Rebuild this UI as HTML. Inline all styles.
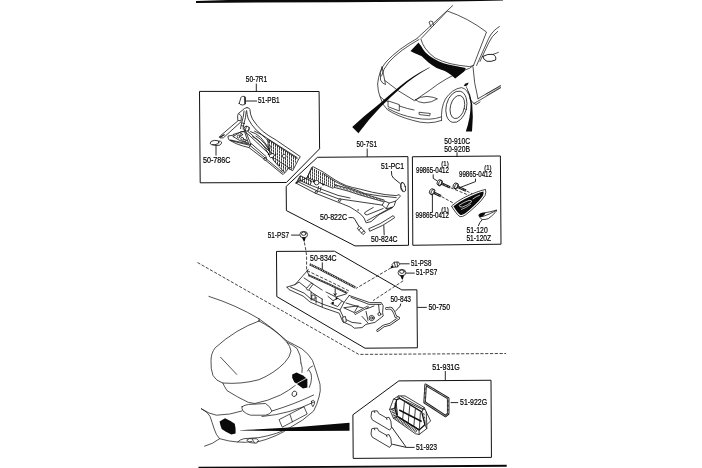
<!DOCTYPE html>
<html><head><meta charset="utf-8"><title>Cowl panel parts diagram</title>
<style>
html,body{margin:0;padding:0;background:#fff;}
body{width:702px;height:468px;overflow:hidden;font-family:"Liberation Sans",sans-serif;}
svg{display:block;filter:grayscale(1);}
svg text{font-family:"Liberation Sans",sans-serif;fill:#000;stroke:#000;stroke-width:0.2;}
.bx{fill:none;stroke:#111;stroke-width:1;}
.ln{fill:none;stroke:#161616;stroke-width:0.82;stroke-linejoin:round;stroke-linecap:round;}
.th{fill:none;stroke:#181818;stroke-width:0.75;stroke-linejoin:round;stroke-linecap:round;}
.ld{fill:none;stroke:#111;stroke-width:0.9;}
.wf{fill:#fff;stroke:#161616;stroke-width:0.82;stroke-linejoin:round;}
.bk{fill:#0a0a0a;stroke:none;}
.ds{fill:none;stroke:#222;stroke-width:0.85;stroke-dasharray:3.2 1.6;}
</style></head><body>
<svg width="702" height="468" viewBox="0 0 702 468">
<rect width="702" height="468" fill="#fff"/>
<polygon class="bk" points="196,0.9 228,0 503,0 503,0.45 480,0.95 450,1.5 340,2.15 196,2.9"/>
<polygon class="bk" points="198.5,466.8 506.7,464.85 506.7,466.65 198.5,468.6"/>
<polygon class="bx" points="199.5,91.4 319.1,91.5 319.6,148.8 286.4,182.5 200.2,182.8"/>
<polygon class="bx" points="317.5,157.3 407.9,156.6 408.5,245.3 355,245.9 286.4,210.6 286.2,186.4"/>
<polygon class="bx" points="412.4,156.75 500.4,156 501,244.2 412.8,245.25"/>
<polygon class="bx" points="276.5,251.4 334.5,251.2 401.8,289.9 416.9,289.8 417.4,347.8 365,348.2 276.8,296.6"/>
<polygon class="bx" points="398.8,380.9 491,380.25 491.45,457.4 353.2,458.4 352.9,414.8"/>
<polyline class="ds" points="197.5,262.5 358.8,354.4 506,353.5"/>
<text x="245.8" y="82.0" font-size="8.4" textLength="21.4" lengthAdjust="spacingAndGlyphs">50-7R1</text>
<path class="ld" d="M256.3,83.6V91.4"/>
<text x="258.0" y="103.4" font-size="8.4" textLength="21.6" lengthAdjust="spacingAndGlyphs">51-PB1</text>
<path class="ld" d="M245.6,101H257"/>
<text x="203.0" y="163.0" font-size="8.4" textLength="27.4" lengthAdjust="spacingAndGlyphs">50-786C</text>
<text x="356.5" y="147.4" font-size="8.4" textLength="20.5" lengthAdjust="spacingAndGlyphs">50-7S1</text>
<path class="ld" d="M367.2,148.6V157"/>
<text x="381.0" y="169.0" font-size="8.4" textLength="23.0" lengthAdjust="spacingAndGlyphs">51-PC1</text>
<text x="320.0" y="220.4" font-size="8.4" textLength="27.0" lengthAdjust="spacingAndGlyphs">50-822C</text>
<text x="371.0" y="242.0" font-size="8.4" textLength="26.5" lengthAdjust="spacingAndGlyphs">50-824C</text>
<text x="444.3" y="144.0" font-size="8.4" textLength="25.7" lengthAdjust="spacingAndGlyphs">50-910C</text>
<text x="444.3" y="151.6" font-size="8.4" textLength="25.7" lengthAdjust="spacingAndGlyphs">50-920B</text>
<path class="ld" d="M457,152.3V157"/>
<text x="441.3" y="166.0" font-size="7.6" textLength="7.4" lengthAdjust="spacingAndGlyphs">(1)</text>
<text x="416.0" y="172.8" font-size="8.4" textLength="33.0" lengthAdjust="spacingAndGlyphs">99865-0412</text>
<text x="484.3" y="169.8" font-size="7.6" textLength="7.3" lengthAdjust="spacingAndGlyphs">(1)</text>
<text x="459.0" y="176.8" font-size="8.4" textLength="33.0" lengthAdjust="spacingAndGlyphs">99865-0412</text>
<text x="441.3" y="211.8" font-size="7.6" textLength="7.5" lengthAdjust="spacingAndGlyphs">(1)</text>
<text x="415.6" y="218.2" font-size="8.4" textLength="33.4" lengthAdjust="spacingAndGlyphs">99865-0412</text>
<text x="466.4" y="233.4" font-size="8.4" textLength="21.3" lengthAdjust="spacingAndGlyphs">51-120</text>
<text x="466.4" y="240.6" font-size="8.4" textLength="24.7" lengthAdjust="spacingAndGlyphs">51-120Z</text>
<text x="267.8" y="237.8" font-size="8.4" textLength="21.1" lengthAdjust="spacingAndGlyphs">51-PS7</text>
<text x="310.1" y="260.6" font-size="8.4" textLength="26.5" lengthAdjust="spacingAndGlyphs">50-834C</text>
<text x="410.9" y="266.0" font-size="8.4" textLength="20.5" lengthAdjust="spacingAndGlyphs">51-PS8</text>
<text x="416.0" y="275.0" font-size="8.4" textLength="21.2" lengthAdjust="spacingAndGlyphs">51-PS7</text>
<text x="390.4" y="301.8" font-size="8.4" textLength="20.6" lengthAdjust="spacingAndGlyphs">50-843</text>
<text x="428.5" y="309.8" font-size="8.4" textLength="21.5" lengthAdjust="spacingAndGlyphs">50-750</text>
<path class="ld" d="M417.3,307.4H426.8"/>
<text x="432.2" y="369.7" font-size="8.4" textLength="27.6" lengthAdjust="spacingAndGlyphs">51-931G</text>
<path class="ld" d="M445.3,371V380.5"/>
<text x="460.1" y="405.1" font-size="8.4" textLength="27.0" lengthAdjust="spacingAndGlyphs">51-922G</text>
<text x="415.9" y="449.7" font-size="8.4" textLength="21.2" lengthAdjust="spacingAndGlyphs">51-923</text>
<g class="th">
<path d="M417.2,38.2L452.7,5.6"/>
<path d="M421.2,38.4L447.3,11Q468,18 486.5,32L473.6,65.3"/>
<path d="M499.4,26.6Q492,31 488.6,38.6L476.6,65.4"/>
<path d="M497.6,31.4Q491.6,36 488.6,43L480,61.4"/>
<path d="M421,39.4Q422.4,44 425,48Q429,53.6 435,58Q442,61.6 450,63.6Q459,65.6 469.3,66.6L473.4,65.6"/>
<path d="M431,27L429,22Q430,20.5 432.5,21.5L433.5,25.5"/>
<path d="M482.8,56.4Q488,53.4 493,54.4Q496.6,56 495.6,60Q491,62 487,61.3Q483.4,60 482.8,56.4Z" stroke-width="0.95"/>
<path d="M493,54.4L498.4,52.4"/>
<path d="M417,38.5Q398,49 386,62Q379,70 377.6,84Q378,92 380,96.5Q382,105 387.5,109.8Q398,116.6 412.6,120.3Q428,125.4 441.6,120.4"/>
<path d="M419,39.5Q400,50 389,62Q383,69 381.5,76"/>
<path d="M382,67Q379.5,72 380.5,80Q382.5,84 385.5,84.5Q383.5,74 382,67Z"/>
<path d="M465,70Q445,78 430,90Q421,96 414.6,100.6"/>
<path d="M385,80.6Q397,91 414,100.4"/>
<path d="M415.5,99.8Q420,96.4 427,96.4Q434,97 437.4,98.8Q432,102.6 424,102.9Q418,102.4 415.5,99.8Z"/>
<path d="M380,96.5Q384,101 388,101.5"/>
<path d="M388.4,101L399.3,104.6L399.3,111L388.4,106.8Z"/>
<path d="M388,108.5Q400,115.4 415,118Q430,121 441,117"/>
<path d="M419.4,112.3L430.3,113.5L429.6,115.8L419.6,114.6Z"/>
<path d="M399.3,106Q408,109 414,110"/>
<path d="M441.6,120.4Q440.6,108 445.4,99Q452,89 461.4,87.6Q467.6,88.4 470.4,99"/>
<ellipse cx="456.4" cy="106.8" rx="10.2" ry="16" transform="rotate(14 456.4 106.8)"/>
<ellipse cx="457.4" cy="107" rx="7" ry="11.8" transform="rotate(14 457.4 107)"/>
<path d="M465,70Q470,69 473.6,65.3"/>
<path d="M473,67Q474,84 478,98.7"/>
<path d="M478,98.7L500.4,85.6"/>
<path d="M474,103.4L477.6,101.4L500.6,87.8"/>
<path d="M470,99Q473,104 476,104.5L480,102"/>
<path d="M486,94L500.4,86.2M487,95.2L500.6,87.2" stroke-width="0.5"/>
</g>
<path class="bk" d="M410.5,51.1L418.6,42.5Q419.6,44 421.1,46Q423,49.4 425.1,52.1Q428,55 431.1,57.1Q435,59.6 439.1,61.6Q443.6,63.4 448.2,64.6Q453,65.8 458.2,66.6L465.7,68.1L464.2,71.6L455.2,78.4L451.8,75.4Q448.6,73 444.8,71Q440.6,69.6 436.6,68Q432.4,65.6 428.5,62.5Q424.8,59.2 421.7,56.3Q419,54.8 416,53.8Q413,52.5 410.5,51.1Z"/>
<path class="bk" d="M463.6,85.6Q465.5,83.2 468.6,82.6Q468.4,85.2 465.4,86.2Z"/>
<path class="bk" d="M429.5,67.2Q412,76 399.6,86.4Q388,96 378.6,104.6Q364,116 352.2,127L358.4,133.2Q369,119 380.6,107Q390,97.6 401,87.8Q413,77 429.6,67.8Z"/>
<path class="bk" d="M466,86.4Q470,95 470.6,104Q470.6,118 465.8,131.4L472,131.4Q473.6,117 472.2,104Q470.6,94 466.4,86.3Z"/>
<g class="th">
<path d="M208.9,296.4Q236,305 259,318.8Q274,329 287,341Q295,345 301.8,348.8Q309,354 312.5,360.5Q316,370 320,384.2Q321,391 319,397Q317,405 313.6,411Q303,421 291,427Q284,432 276.2,435.5Q266,440 257,442"/>
<path d="M259,321Q236,329 215.3,347.7Q211,353 211,360.5Q210.5,369 213,375.5Q216,381 222.8,383Q241,384.5 259,379.7Q274,373.5 284.7,362.6Q290,357 291,351Q290,346 287,342.4Q279,333 269.8,327.4Q264,323.5 259,321Z"/>
<path d="M259,318.8L259,321"/>
<path d="M220.6,357.3L236.7,374.4"/>
<path d="M287,342.4Q293,345 297,348.5Q301,355 301,363"/>
<path d="M222.8,383Q224,386 227,390.6Q237,397 248.4,402.4L254.8,403.5Q268,401 280.5,395Q289,390.5 295.4,385.3"/>
<path d="M301,363Q303,368 302,372.5"/>
<path d="M309.3,370.3Q312,374 311.5,377.8Q311.5,383 309.3,387.4"/>
<path d="M312.5,366Q309,367 307.5,371"/>
<ellipse cx="294.4" cy="393.8" rx="2.3" ry="2.8" transform="rotate(25 294.4 393.8)"/>
<path d="M242,406.7Q245,404.8 248.4,404.5L265.5,403.5Q270,406 272,411Q270,414.5 265.5,415.2L250.6,415.2Q246,414 243,411Q241.5,408.5 242,406.7Z"/>
<path d="M201.4,408.8Q208,412 210,416.3Q212,422 214.2,429Q216,435 219.6,438.7Q213,444 204.6,446.2"/>
<path d="M201.4,408.8Q209,414 216.4,415.2Q230,415 242,411"/>
<path d="M272,411Q295,404 313.6,395"/>
<path d="M262,416.5Q290,414 314,402"/>
<path d="M279.4,419.5L304,406.7L307.2,414L282.6,427Z"/>
<path d="M290,414.6L292.4,421.8"/>
<path d="M311.5,401.3Q313.6,399 314.7,401.5Q314.5,405 312.8,406.7Q311,404.5 311.5,401.3Z"/>
<path d="M219.6,438.7Q229,441.5 237.7,442Q240,439.5 244,438.7L259,437.6Q268,436 276.2,433.4Q283,431 289,428"/>
<path d="M237.7,442Q246,443 252,441.5"/>
<path d="M247,440L249.5,438.6L256.5,438.8L258.5,440.5L256.5,443.2L250,442.6Z"/>
<path d="M252.2,439.2L254.5,442.8"/>
</g>
<path class="bk" d="M292.2,374.6L296.5,372.4L303,375.4L307.4,378.9L307.4,387.4L303,388.6L297.6,384.6L294.2,382L292.2,377.8Z"/>
<path d="M293.3,385.5L307.6,377.6" stroke="#fff" stroke-width="0.8" fill="none"/>
<path class="bk" d="M219.6,421.6L225,418.3L230.5,421L234.7,423.8Q236,428 235.6,433.4L231.3,434.6L225.5,431.6L221.7,429Q220,425 219.6,421.6Z"/>
<path class="bk" d="M239.9,430.2Q295,428 349.5,422.8L349.5,430.8Q295,431.2 239.9,430.5Z"/>
<path class="ln" d="M239.2,103.4L241,97.4Q241.4,96.5 242.6,96.4L244.4,96.4Q245.2,96.8 245.2,98L245.3,103.6Q244.6,105 242.4,105Q239.8,105 239.2,103.4Z"/>
<path d="M244.9,96.8L245.1,104.2" stroke="#111" stroke-width="1.3" fill="none"/>
<ellipse class="ln" cx="214.6" cy="142.6" rx="4.4" ry="2.2" transform="rotate(-8 214.6 142.6)"/>
<path class="ln" d="M212.5,144.6Q216,146.3 219.6,145.2Q221.8,144 221.6,142.2Q220.6,140.8 218.6,140.9"/>
<path class="ld" d="M216,145.6V155.6"/>
<path class="ln" d="M247.1,107.6Q249.4,107.6 249.9,109.4Q250,114 252.4,119Q256.6,125.6 262.4,131Q268.6,136 276.3,140.2L300.3,156.6L298.2,160L292.7,170.7L288.2,168.4L286.2,171.4L283.2,174.4Q281.6,174.2 281,173L264.1,159.1L249,147.6Q242,146 236.1,143.6L229.1,140Q227.6,138 228.1,136L234.1,135"/>
<path class="ln" d="M246.6,110.6Q247,115 248.3,119Q251.4,125 256.2,130Q261.6,135 268.2,139L297.2,157.6"/>
<path class="ln" d="M247.1,107.6L244.6,108.4L238.3,113.6L237.6,115.6L237.8,120.4L241.1,120.8L241.4,116L239,113.8"/>
<path class="ln" d="M244.1,111Q243.4,118 241.6,123Q240.8,126 240.6,128.6"/>
<path class="ln" d="M246.2,111.6Q245.8,118 244,123.4Q243,126.6 243.2,129.4"/>
<path class="ln" d="M242.4,123L244.6,123.6M241.6,125.6L243.6,126.2"/>
<path class="ln" d="M237.7,121L220.2,136L219.4,137.2L220.6,138L223.4,137.8L241,121.8"/>
<path d="M219.6,137.4L224.6,134.6" stroke="#111" stroke-width="1.2" fill="none"/>
<circle class="wf" cx="246.6" cy="128.6" r="2.5"/>
<path class="ln" d="M233.1,136.6L241.1,131.6L244.6,131.8L248.4,143.2M233.1,136.6L240,140.6L248.4,143.2"/>
<circle class="ln" cx="238.6" cy="136.6" r="1.4"/><circle class="ln" cx="242.2" cy="138.8" r="1.4"/><circle class="ln" cx="241.2" cy="134.6" r="1.2"/><circle class="ln" cx="245" cy="140.6" r="1.2"/>
<path class="ln" d="M245.6,132.4L249,135L269.1,154M247.6,131.4L251,134L270.6,152.4"/>
<path class="ln" d="M250.6,131.6Q256,133 260.6,137.4Q266,143 270.6,152"/>
<path class="ln" d="M254.6,131.2Q262,134 266.6,139Q269,142 271.6,150"/>
<path class="ln" d="M249.2,147.2L251.2,143.6L266.6,157L264.6,159.4"/>
<path class="ln" d="M230.6,140.4L236.6,142.2L249.6,145.2L265.6,158.4L281.6,171.6"/>
<path class="ln" d="M233.4,134.4L245.4,130.7L251,144.6L230.6,140"/>
<path class="ln" d="M252.6,136.6Q258,139 262,144Q266,149 268.4,153.6M256,136Q261,139 264.6,143.6Q268,148 269.6,151.6"/>
<path class="ln" d="M244.6,131.6L246.6,126.4M248.6,131L249.4,127.6"/>
<ellipse class="wf" cx="265.4" cy="159" rx="1.5" ry="1" transform="rotate(35 265.4 159)"/>
<clipPath id="c0"><polygon points="268.1,139.5 297.2,158.6 292.7,169.9 288.2,168.2 284.4,172.4 274.2,161.2 270.1,154.0 268.1,145.0"/></clipPath>
<path d="M267.5,138.5V173.4M269.5,138.5V173.4M271.5,138.5V173.4M273.5,138.5V173.4M275.5,138.5V173.4M277.5,138.5V173.4M279.5,138.5V173.4M281.5,138.5V173.4M283.5,138.5V173.4M285.5,138.5V173.4M287.5,138.5V173.4M289.5,138.5V173.4M291.5,138.5V173.4M293.5,138.5V173.4M295.5,138.5V173.4M297.5,138.5V173.4" clip-path="url(#c0)" stroke="#3c3c3c" stroke-width="1" fill="none" shape-rendering="crispEdges"/>
<path class="ln" d="M268.1,139.5L297.2,158.6M268.1,145L270.1,154L274.2,161.2L284.4,172.4M268.1,139.5V145M274.6,158.6L288.6,167.6"/>
<path d="M268.4,143L296.4,161.4M269,146.6L295.2,163.8M270.2,150.6L294,166.2M271.6,154.6L292.8,168.4M274.6,159.4L288,168.2M278,165.6L286,170.6" stroke="#fff" stroke-width="0.55" fill="none"/>
<circle class="wf" cx="284.2" cy="156.1" r="1.8"/>
<ellipse class="wf" cx="271.8" cy="155.6" rx="2.6" ry="1.9" transform="rotate(-25 271.8 155.6)"/>
<circle class="wf" cx="265.2" cy="159.2" r="1.2"/>
<circle class="bk" cx="279.2" cy="165.1" r="0.9"/>
<circle class="bk" cx="268.6" cy="154.4" r="0.8"/><circle class="bk" cx="275.6" cy="154.2" r="0.8"/>
<ellipse class="wf" cx="282.6" cy="171.4" rx="1.3" ry="0.9"/>
<ellipse class="wf" cx="290.6" cy="168.4" rx="1.3" ry="0.9"/>
<clipPath id="c1"><polygon points="312.2,167.6 323.1,173.4 335.2,181.4 336.0,184.8 333.2,188.3 307.1,177.6"/></clipPath>
<path d="M306.5,166.6V189.3M308.5,166.6V189.3M310.5,166.6V189.3M312.5,166.6V189.3M314.5,166.6V189.3M316.5,166.6V189.3M318.5,166.6V189.3M320.5,166.6V189.3M322.5,166.6V189.3M324.5,166.6V189.3M326.5,166.6V189.3M328.5,166.6V189.3M330.5,166.6V189.3M332.5,166.6V189.3M334.5,166.6V189.3M336.5,166.6V189.3" clip-path="url(#c1)" stroke="#3c3c3c" stroke-width="1" fill="none" shape-rendering="crispEdges"/>
<clipPath id="c2"><polygon points="301.0,176.1 311.6,181.1 310.1,185.1 299.0,180.1"/></clipPath>
<path d="M298.5,175.1V186.1M300.5,175.1V186.1M302.5,175.1V186.1M304.5,175.1V186.1M306.5,175.1V186.1M308.5,175.1V186.1M310.5,175.1V186.1M312.5,175.1V186.1" clip-path="url(#c2)" stroke="#3c3c3c" stroke-width="1" fill="none" shape-rendering="crispEdges"/>
<path class="ln" d="M312.2,167.6L307.1,177.6L333.2,188.3L336,184.8M301,176.1L311.6,181.1L310.1,185.1L299,180.1Z"/>
<path d="M311,170.4L335.4,183.6M309.8,172.8L334.8,186M308.6,175.2L334,188M300.2,178L311,183" stroke="#fff" stroke-width="0.55" fill="none"/>
<path class="ln" d="M296,183.1L300,176L301,176.1M307.1,177.6L311.4,168Q312,166.4 313.4,166.8L323.1,172Q329,176 335.2,180Q340,183 346.2,185.6Q352,187.6 360,189.1Q372,192.6 385.2,194.6L396.2,195.6L399.2,194.6L400.4,196.1L397.7,199.1L395.7,201.1L394.2,205.6L392.2,207.8L379.2,214.6L371.1,221.6L366.1,222.8L364.1,218.1Q362,215 359.1,213Q355,210 350,207Q343,204 335,201L315.1,193.1L296,183.1Z"/>
<path class="ln" d="M323.1,173.6Q330,178 336,182Q342,185 348,187.4Q356,189.6 365.1,193.6Q380,196.4 396.2,197.6"/>
<path class="ln" d="M335.2,184.8Q348,188 360,192.6L384.2,200.1M334.2,187.4Q348,190.6 360,195L383.2,201.6"/>
<path d="M336,186Q348,189.4 360,193.8L383.6,200.8" stroke="#222" stroke-width="1.6" stroke-dasharray="0.6 0.9" fill="none"/>
<path class="ln" d="M297.5,181.4L316,190.4L338.2,198.7L382.2,205.1M299,180.1L296.8,183.4"/>
<path class="ln" d="M310.6,185.2L338,195.4L350,198"/>
<path class="ln" d="M384.4,201.4L382.2,205.1L386.2,208.6L389.2,203.1L384.7,201.1M389.2,203.1L395.7,201.1M386.2,208.6L392.2,207.6"/>
<path class="ln" d="M373.2,207.5L365.4,212Q364.2,213 364.8,214Q365.8,215.2 367.4,214.8L383.2,208.5"/>
<path class="ln" d="M367.1,220.6L392.2,207"/>
<circle class="bk" cx="358.1" cy="210" r="0.7"/>
<circle class="wf" cx="316.6" cy="182.6" r="2.3"/>
<circle class="bk" cx="313.6" cy="181.6" r="1"/><circle class="bk" cx="323.1" cy="184.6" r="1"/>
<ellipse class="wf" cx="316.3" cy="192.1" rx="1.5" ry="1" transform="rotate(-30 316.3 192.1)"/>
<ellipse class="wf" cx="339.7" cy="200.2" rx="1.5" ry="1" transform="rotate(-30 339.7 200.2)"/>
<path class="ln" d="M318.6,186.4L317.8,190M321,187.2L320.2,190.8"/>
<ellipse class="ln" cx="403.2" cy="187" rx="2.1" ry="4.8" transform="rotate(-14 403.2 187)"/>
<path class="ln" d="M402.2,182.6Q400.4,184 400.6,187.4Q401,190.6 402.8,191.6"/>
<path class="ld" d="M391.4,171L391.8,175.4L393.4,178L400.2,183.5"/>
<path class="wf" d="M357.2,228.4L359.6,226.2L365.4,232.4L363,234.6Z" stroke-width="0.9"/>
<path class="ln" d="M358.8,230L361.2,227.8M361.6,232.8L364,230.8"/>
<path class="ld" d="M348.6,217.6L352.6,217.6Q354.2,217.8 354.8,219.4L359.1,226.6"/>
<path class="ln" d="M369.1,228.6L380.2,223.6L385.2,220.6L393.2,215.6L394.7,217.6L387.2,222.6L382.2,225.6L370.1,231.1Z"/>
<path class="ld" d="M383.8,225.2L384.2,235.2"/>
<ellipse class="wf" cx="439.4" cy="182.6" rx="2.2" ry="3" transform="rotate(24 439.4 182.6)" stroke-width="1"/>
<ellipse class="ln" cx="440.5" cy="183.1" rx="1.6" ry="3.1" transform="rotate(24 440.5 183.1)"/>
<path d="M441.8,183.7L450.0,187.4" stroke="#111" stroke-width="2.4" fill="none"/>
<path d="M442.5,184.0L449.5,187.2" stroke="#fff" stroke-width="1.0" stroke-dasharray="0.6 0.9" fill="none"/>
<ellipse class="wf" cx="455.4" cy="185.8" rx="2.2" ry="3" transform="rotate(24 455.4 185.8)" stroke-width="1"/>
<ellipse class="ln" cx="456.5" cy="186.3" rx="1.6" ry="3.1" transform="rotate(24 456.5 186.3)"/>
<path d="M457.8,186.9L466.0,190.6" stroke="#111" stroke-width="2.4" fill="none"/>
<path d="M458.5,187.2L465.5,190.4" stroke="#fff" stroke-width="1.0" stroke-dasharray="0.6 0.9" fill="none"/>
<ellipse class="wf" cx="431.8" cy="191.6" rx="2.2" ry="3" transform="rotate(27 431.8 191.6)" stroke-width="1"/>
<ellipse class="ln" cx="432.9" cy="192.1" rx="1.6" ry="3.1" transform="rotate(27 432.9 192.1)"/>
<path d="M434.1,192.8L441.0,196.2" stroke="#111" stroke-width="2.4" fill="none"/>
<path d="M434.8,193.1L440.6,196.0" stroke="#fff" stroke-width="1.0" stroke-dasharray="0.6 0.9" fill="none"/>
<path class="ld" d="M433.2,174.4V178.4L437.4,181"/>
<path class="ld" d="M475.5,178.6V181.6L460.4,187.4"/>
<path class="ld" d="M432.4,194.6V212.4"/>
<path class="ds" d="M441.6,196.6L454.6,203.8M450.6,187.8L470.8,196M466.6,191L472.6,194"/>
<path class="wf" d="M451.5,206Q457,201.4 463.3,198Q470,194.6 476.1,192.3Q481,190.4 485.5,189.4Q486.4,192 485,195.5Q481.4,201 476.1,205.8Q471,210.6 465.8,214.7Q462.6,217 460,216.7Q457.4,215 455.6,212.2Q453,208.8 451.5,206Z" stroke-width="1"/>
<path class="bk" d="M453.4,206.2Q458.6,202 464.4,199.2Q471,195.8 477,193.4Q480.6,192 483.6,191.6Q483.8,193.8 482.6,196.2Q479.2,201 474.8,205Q469.8,209.8 465,213.6Q462.4,215.4 460.4,215Q458.2,213.4 456.6,211Q454.8,208.4 453.4,206.2Z"/>
<path d="M459,205.4Q464,202 469,200.4Q472,200 471.6,201.8Q468,205 462.6,207Q459.4,207.4 459,205.4Z" fill="none" stroke="#fff" stroke-width="0.7"/>
<path d="M472.6,199.2Q476,196.6 480,195" fill="none" stroke="#fff" stroke-width="0.7"/>
<path d="M461,209.6Q466,208 471,204" fill="none" stroke="#fff" stroke-width="0.6"/>
<path class="wf" d="M478.8,214.8Q480.4,213.4 482.2,213.1Q486,212.6 489.9,211.8Q493.6,211 496.7,210Q496.4,211.6 495,212.7Q492,216 488.2,218.7Q485,219.8 482.2,219.5Q480.4,218.6 479.6,217Q479,215.8 478.8,214.8Z" stroke-width="0.9"/>
<path class="bk" d="M478.8,214.8Q480.4,213.4 482.2,213.1L485.6,212.7Q484.6,215 482.6,216.6Q481,217.4 479.6,217Z"/>
<path class="ln" d="M482.6,216.6Q489,214.6 496,210.6"/>
<path class="ld" d="M482.2,219.7Q479.4,222.4 478.3,226"/>
<path d="M309.6,264.2Q320,268.8 331.3,275Q344,281.6 355.4,287.4" stroke="#222" stroke-width="2.3" fill="none"/>
<path d="M309.6,264.2Q320,268.8 331.3,275Q344,281.6 355.4,287.4" stroke="#fff" stroke-width="1.2" stroke-dasharray="0.7 1.1" fill="none"/>
<path class="ld" d="M322.3,262.4V269.4"/>
<path d="M308.4,275.2Q328,283.6 347.3,293.1" stroke="#222" stroke-width="1.8" fill="none"/>
<path d="M308.4,275.2Q328,283.6 347.3,293.1" stroke="#fff" stroke-width="0.8" stroke-dasharray="0.7 1.1" fill="none"/>
<path class="ds" d="M304.4,242.4L305.8,250L306.6,256V270.4L333.2,283.1L349,291"/>
<path class="ds" d="M391,267.9L355.8,288.5"/>
<path class="ds" d="M403.2,280.8L373.1,300.6"/>
<path class="ln" d="M287,287.1L295,284.6L307.1,271L308.1,269.5M287,287.1L289,289.6L303.1,296.1L310.1,302.1L323.2,307.7L339.2,313.2L342.8,321.8L351.2,325.6L354.4,328.2L362,327.6L365.9,324.4L374.9,322.4L383.2,316L382.6,312.2L383.2,305.8L381.3,302.6L369.7,302.6L349.2,295.5"/>
<path class="ln" d="M290.5,287.1L304.1,293.1L311.1,299.1L324,304.6L340,310L344,318.6L352,322.4L361,323.4"/>
<path class="ln" d="M295,284.6L299.1,282.1L311.1,291.6M304.1,278L322.2,290.1M307.1,271L309,275.4"/>
<path class="ln" d="M311.1,292.1V300.1M312.1,295.1H315.1V299.1H312.1ZM316.1,297.1V303.1M322.2,299.1V306.7M311.1,292.1L322.2,299.1"/>
<path class="wf" d="M306.4,288.6L311,283.4Q312.4,282.8 313.2,284L308.6,290.2Q307,290.4 306.4,288.6Z"/>
<path class="ln" d="M326,292L336,297L346,294M328,296.4L333,300.6L338,298.4L344,302.4M331,303.6L337.6,306.6L341.6,301.6"/>
<path class="bk" d="M331.4,302.4L333.4,301.6L334.2,303.4L332.4,304.2ZM335.4,297.4L337.2,297L337.6,298.8L336,299.4Z"/>
<path class="ld" d="M335.2,288.4V295.4M333.8,293.4L335.2,295.6L336.6,293.4"/>
<path class="ln" d="M344.1,307.7L358.2,305.8L354.4,312.2Z"/>
<path class="ln" d="M349.2,295.5L344,302.4L340,310M351,297.4L369,304.4L381,304.4M346,303L366,309L374,306"/>
<path d="M354.6,314L368.4,306.4" stroke="#222" stroke-width="2" fill="none"/>
<path d="M355,313.8L368,306.6" stroke="#fff" stroke-width="0.9" fill="none"/>
<circle class="ln" cx="371.7" cy="318" r="2.6"/><circle class="ln" cx="371.7" cy="318" r="1.1"/>
<circle class="ln" cx="379.4" cy="314.1" r="1.5"/>
<path class="ln" d="M366,311.4L368,320.4M378.6,304.6L379.4,312.6M362,316.4L368,323"/>
<path class="wf" d="M342.4,317.4L345.4,316.4L346.4,321.6L343.6,322.6Z"/>
<path d="M386.4,308.6L390.4,307.9Q392.8,309 394.6,313.4L395.6,316.4L398.8,318.2L395.4,320.4L390,324.2L383.6,326L377.6,330.6" stroke="#1a1a1a" stroke-width="2.5" fill="none" stroke-linejoin="round" stroke-linecap="round"/>
<path d="M386.4,308.6L390.4,307.9Q392.8,309 394.6,313.4L395.6,316.4L398.8,318.2L395.4,320.4L390,324.2L383.6,326L377.6,330.6" stroke="#fff" stroke-width="1.05" fill="none" stroke-linejoin="round" stroke-linecap="round"/>
<path class="ld" d="M400.8,303.6Q400.6,306.4 398.6,308L395.4,311.2"/>
<ellipse class="wf" cx="303.7" cy="234.6" rx="3.9" ry="3.2" stroke-width="1"/>
<ellipse class="ln" cx="303.7" cy="233.7" rx="2.3" ry="1.7"/>
<path class="bk" d="M301.8,237.29999999999998L305.8,237.29999999999998L304.59999999999997,241.6L303.8,241.6Z"/>
<path class="ld" d="M291.1,235.1H299.8"/>
<ellipse class="wf" cx="401.9" cy="272.6" rx="3.9" ry="3.2" stroke-width="1"/>
<ellipse class="ln" cx="401.9" cy="271.70000000000005" rx="2.3" ry="1.7"/>
<path class="bk" d="M400.0,275.3L404.0,275.3L402.79999999999995,279.6L402.0,279.6Z"/>
<path class="ld" d="M405.8,273.1H414.7"/>
<path class="wf" d="M392,264.6L394.2,262.2L398.6,262L399.6,264.4L397.4,267L392.8,267.2Z" stroke-width="0.9"/>
<path class="ln" d="M394.2,262.2L395.4,266.8M397,262.2L397.6,266.8"/>
<path class="bk" d="M390.6,266.6L393,265.4L393.4,267.6L391.4,268.4Z"/>
<path class="ld" d="M399.6,263.8H409.6"/>
<path d="M425.6,384.8L448.2,398.3V413.7L445.4,416L424.6,402.4Z" fill="#fff" stroke="#1a1a1a" stroke-width="2.5" stroke-linejoin="round"/>
<path d="M425.6,384.8L448.2,398.3V413.7L445.4,416L424.6,402.4Z" fill="none" stroke="#fff" stroke-width="1" stroke-linejoin="round" stroke-dasharray="0.7 0.6"/>
<path class="ld" d="M450.6,402.6H458.2"/>
<path class="wf" d="M393.5,399.1L398.6,395.9L405,395.9L424.2,407.4L426.2,411.9L430.6,420.9L426.8,424.7L426.8,428.6L419.1,434.5L415.3,433.7L393.5,418.3L389.6,409.4Z" stroke-width="0.9"/>
<path class="ln" d="M393.5,399.1L396.7,399.7L399.9,398.5L398.6,395.9M424.2,407.4L421.7,411.9M426.2,411.9L426.8,424.7M426.8,428.6L424.9,424.7M389.6,409.4L394.7,408.1M393.5,418.3L397.3,416.4M419.1,434.5L419.1,429.9"/>
<path d="M396.7,399.7L399.9,398.5L421.7,411.9L424.9,424.7L419.1,429.9L397.3,416.4L394.7,408.1Z" fill="#fff" stroke="#111" stroke-width="1.3" stroke-linejoin="round"/>
<path d="M399.2,410L421.7,421.5" stroke="#111" stroke-width="1.5" fill="none"/>
<path d="M396,401.6L397.6,415.4M395,403L396.6,414.6" stroke="#111" stroke-width="0.9" fill="none"/>
<path d="M404.4,402.2L402.6,419.4M409.8,405.4L408.2,422.8M415.4,408.8L413.8,426.2M420.4,412.4L419.4,428.8" stroke="#111" stroke-width="0.8" fill="none"/>
<path d="M398.4,417L419.4,430" stroke="#111" stroke-width="1.4" fill="none"/>
<path d="M392.2,409L395.5,417.5L417.2,431.9" stroke="#222" stroke-width="3" fill="none" stroke-dasharray="0.8 0.8"/>
<path class="ln" d="M397.6,397.4L423,409.6M401,396.4L424.6,409.6"/>
<path d="M423.6,413L425.6,424" stroke="#222" stroke-width="1.4" fill="none" stroke-dasharray="0.7 0.7"/>
<path class="wf" d="M371.7,411.5L374.2,410.9L377.4,410.9L378.7,413.5L386.4,417.9L389.0,417.3L390.9,421.2L391.5,427.6L389.6,430.1L372.3,419.9L371.0,416.7Z"/>
<path class="ln" d="M374.2,411.1L374.8,412.6M386.4,417.9L387,419.6"/>
<path class="wf" d="M371.7,428.8L374.2,428.2L377.4,428.2L378.7,430.8L386.4,435.2L389.0,434.6L390.9,438.5L391.5,444.9L389.6,447.4L372.3,437.2L371.0,434.0Z"/>
<path class="ln" d="M374.2,428.4L374.8,429.9M386.4,435.2L387,436.9"/>
<path class="ld" d="M391.6,426.9L406.3,447.4M392.2,444.2L406.3,447.4H414.6"/>
</svg>
</body></html>
